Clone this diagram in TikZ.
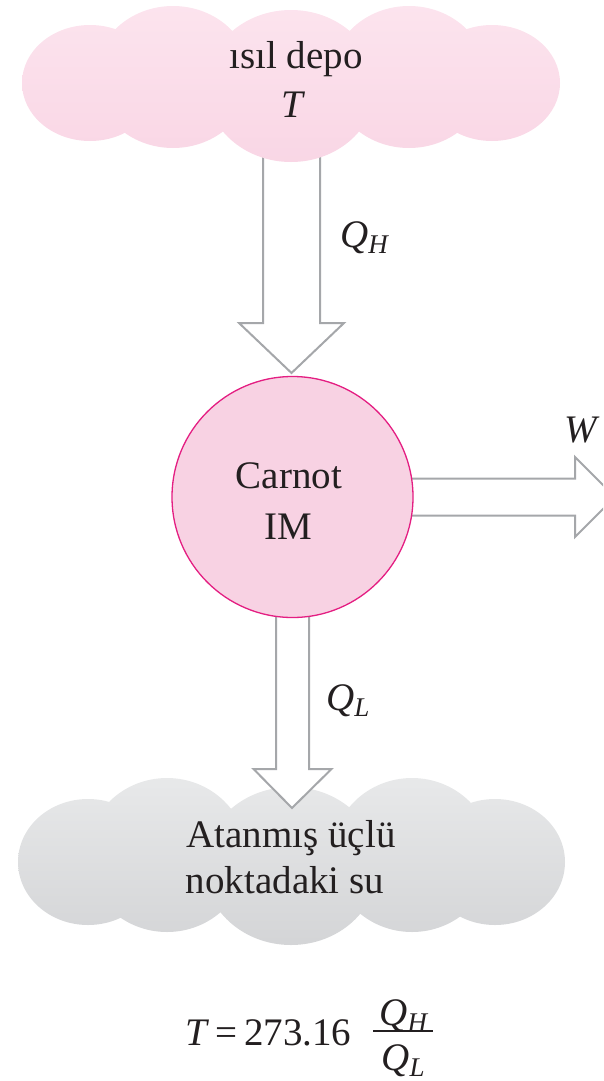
\documentclass[tikz,border=0pt]{standalone}
\usepackage{fontspec}
\setmainfont{Liberation Serif}
\usetikzlibrary{calc}
\definecolor{pinktop}{RGB}{252,228,238}
\definecolor{pinkbot}{RGB}{249,214,229}
\definecolor{graytop}{RGB}{232,233,234}
\definecolor{graybot}{RGB}{211,212,214}
\definecolor{engfill}{RGB}{248,210,227}
\definecolor{engline}{RGB}{228,30,130}
\definecolor{arrowgray}{RGB}{165,167,170}
\definecolor{ink}{RGB}{35,31,32}
\newcommand{\qsub}[2]{\textit{#1}\raisebox{-0.17em}{\fontsize{27}{30}\selectfont\textit{#2}}}
\newcommand{\varrow}[5]{\draw[hollowarrow] let \p1=(#1), \p2=(#2) in
  (\x1-#3pt,\y1) -- (\x1-#3pt,\y2+#5pt) -- (\x1-#4pt,\y2+#5pt) -- (\x2,\y2)
  -- (\x1+#4pt,\y2+#5pt) -- (\x1+#3pt,\y2+#5pt) -- (\x1+#3pt,\y1);}
\newcommand{\harrow}[5]{\draw[hollowarrow] let \p1=(#1), \p2=(#2) in
  (\x1,\y1+#3pt) -- (\x2-#5pt,\y1+#3pt) -- (\x2-#5pt,\y1+#4pt) -- (\x2,\y2)
  -- (\x2-#5pt,\y1-#4pt) -- (\x2-#5pt,\y1-#3pt) -- (\x1,\y1-#3pt);}
\tikzset{
  hollowarrow/.style={draw=arrowgray, line width=2pt, fill=white, line join=miter},
  lbl/.style={inner sep=0pt, anchor=base, text=ink, font=\fontsize{39}{47}\selectfont},
  engine/.style={circle, minimum size=241pt, inner sep=0pt, draw=engline, line width=1.3pt, fill=engfill},
}
\begin{document}
\begin{tikzpicture}[x=1pt,y=-1pt]
\useasboundingbox (0,0) rectangle (603,1081);
\clip (0,0) rectangle (603,1081);
% named points
\coordinate (imc) at (292.5,497);
\coordinate (hotin) at (291.5,140);
\coordinate (hottip) at (291.5,373);
\coordinate (coldtip) at (292,808);
\coordinate (wtip) at (615,497);
% bottom cloud
\begin{scope}
\clip (88,862) ellipse [x radius=70, y radius=63]
      (167,855) ellipse [x radius=80, y radius=77]
      (291,866) ellipse [x radius=87, y radius=79]
      (412,855) ellipse [x radius=80, y radius=77]
      (495,862) ellipse [x radius=70, y radius=63];
\shade[top color=graytop, bottom color=graybot] (0,775) rectangle (603,950);
\end{scope}
% arrows from engine
\varrow{imc}{coldtip}{16.5}{39}{39}
\harrow{imc}{wtip}{18.5}{40}{40}
% engine
\node[engine] (im) at (imc) {};
% top arrow
\varrow{hotin}{hottip}{28.5}{52.5}{50}
% top cloud
\begin{scope}
\clip (90,83) ellipse [x radius=68, y radius=58]
      (173,77) ellipse [x radius=78, y radius=71]
      (291,86) ellipse [x radius=85, y radius=76]
      (409,77) ellipse [x radius=78, y radius=71]
      (492,83) ellipse [x radius=68, y radius=58];
\shade[top color=pinktop, bottom color=pinkbot] (0,3) rectangle (603,165);
\end{scope}
% texts
\node[lbl] (hot1) at (296,68) {ısıl depo};
\node[lbl] (hot2) at (293,117) {\textit{T}};
\node[lbl] (eng1) at (289,488) {Carnot};
\node[lbl] (eng2) at (288,539) {IM};
\node[lbl] (cold1) at (291,847) {Atanmış üçlü};
\node[lbl] (cold2) at (285,893) {noktadaki su};
\node[lbl] (wlbl) at (582,442) {\textit{W}};
\node[lbl, anchor=base west] (qh) at (340,247) {\qsub{Q}{H}};
\node[lbl, anchor=base west] (ql) at (326,710) {\qsub{Q}{L}};
% formula
\node[lbl, anchor=base west] (eq) at (185,1045) {\textit{T}\,=\,273.16};
\coordinate (barl) at (373,1031);
\coordinate (barr) at (433,1031);
\draw[ink, line width=1.6pt] (barl) -- (barr);
\node[lbl] (num) at (404,1025) {\qsub{Q}{H}};
\node[lbl] (den) at (403,1070) {\qsub{Q}{L}};
\end{tikzpicture}
\end{document}
